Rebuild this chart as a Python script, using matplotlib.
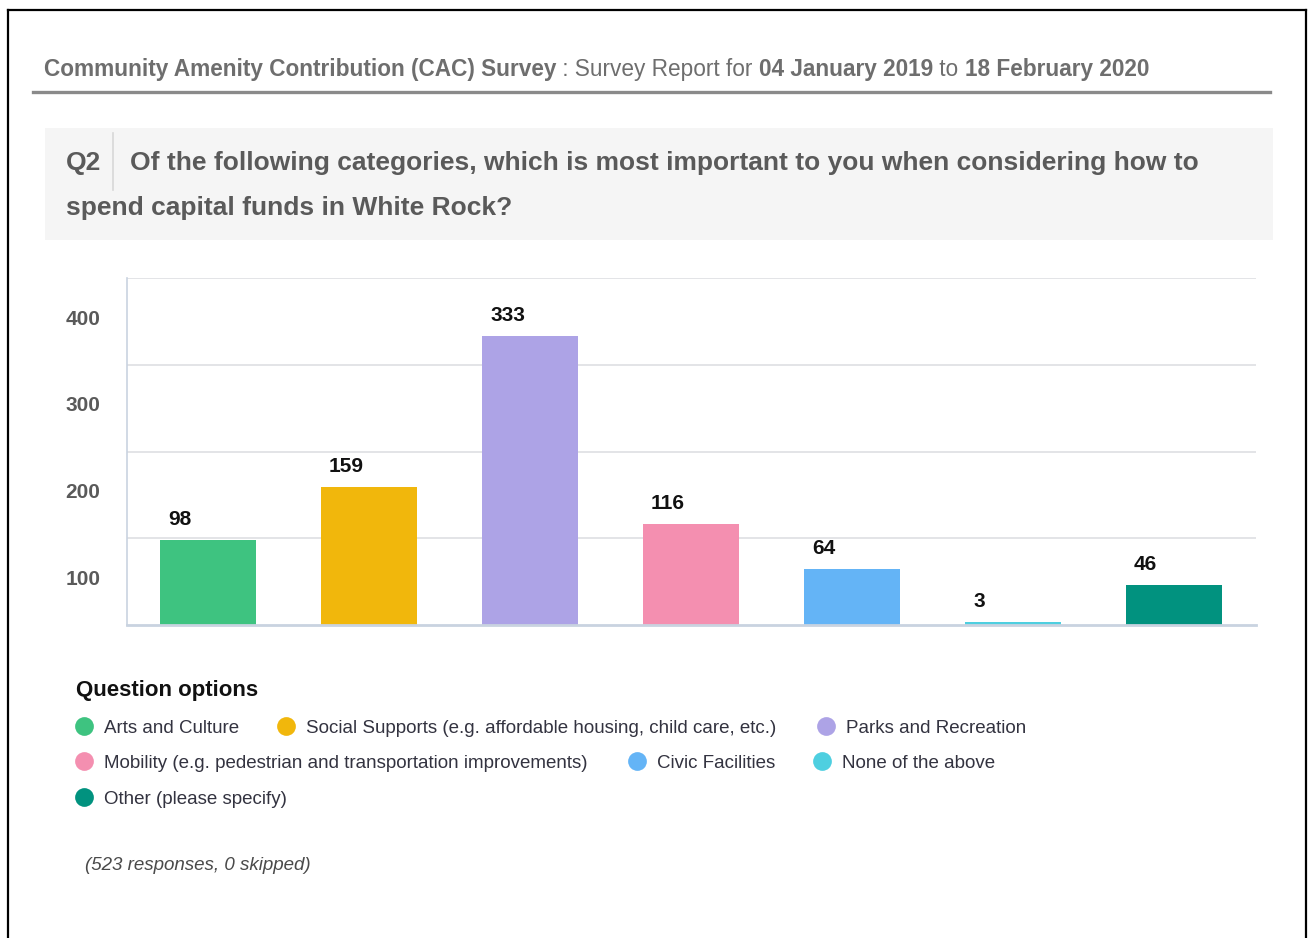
import matplotlib
matplotlib.use("Agg")
import matplotlib.pyplot as plt
import matplotlib.transforms as mtransforms
from matplotlib.lines import Line2D
from matplotlib.patches import Rectangle
import numpy as np

# ---------------------------------------------------------------- datos
OPTIONS = [
    "Arts and Culture",
    "Social Supports (e.g. affordable housing, child care, etc.)",
    "Parks and Recreation",
    "Mobility (e.g. pedestrian and transportation improvements)",
    "Civic Facilities",
    "None of the above",
    "Other (please specify)",
]
COUNTS = [98, 159, 333, 116, 64, 3, 46]
COLORS = ["#3ec380", "#f1b70c", "#ada3e6", "#f48fb0",
          "#64b4f6", "#4ecfe0", "#01927f"]
Y_TICKS = [100, 200, 300, 400]
RESPONSES = 523
SKIPPED = 0

# ---------------------------------------------------------------- estilo
W, H, DPI = 1315, 938, 100
GRAY_TXT = "#5a5a5a"
INK = "#111111"
LEGEND_TXT = "#333340"
GRID = "#dedfe3"
SPINE = "#c9d3e0"
FONT = "Liberation Sans"

plt.rcParams.update({"font.family": FONT})

fig = plt.figure(figsize=(W / DPI, H / DPI), dpi=DPI)
fig.patch.set_facecolor("white")


def fx(x):
    return x / W


def fy(y):
    return 1 - y / H


def run_text(x, y, parts, size, color):
    """Escribe trozos de texto seguidos (normal / negrita) en una linea."""
    renderer = fig.canvas.get_renderer()
    cur = x
    for txt, weight in parts:
        t = fig.text(fx(cur), fy(y), txt, fontsize=size, fontweight=weight,
                     color=color, va="baseline", ha="left")
        cur += t.get_window_extent(renderer).width


# marco exterior
for xs, ys in (([8, 1306], [10, 10]), ([8, 8], [10, 940]), ([1306, 1306], [10, 940])):
    fig.add_artist(Line2D([fx(v) for v in xs], [fy(v) for v in ys],
                          color="black", lw=1.6))

# cabecera del informe
run_text(44, 76, [("Community Amenity Contribution (CAC) Survey", "bold"),
                  (" : Survey Report for ", "normal"),
                  ("04 January 2019", "bold"),
                  (" to ", "normal"),
                  ("18 February 2020", "bold")], 16.3, "#6e6e6e")
fig.add_artist(Line2D([fx(33), fx(1270)], [fy(92), fy(92)],
                      color="#8a8a8a", lw=2.4))

# caja de la pregunta
fig.add_artist(Rectangle((fx(45), fy(240)), fx(1273) - fx(45), fy(128) - fy(240),
                         facecolor="#f5f5f5", edgecolor="none"))
fig.add_artist(Line2D([fx(113), fx(113)], [fy(133), fy(190)],
                      color="#d8d8d8", lw=1.2))
Q_SIZE = 19
fig.text(fx(66), fy(163), "Q2", fontsize=Q_SIZE, fontweight="bold",
         color=GRAY_TXT, va="center", ha="left")
fig.text(fx(130), fy(163),
         "Of the following categories, which is most important to you when "
         "considering how to", fontsize=Q_SIZE, fontweight="bold",
         color=GRAY_TXT, va="center", ha="left")
fig.text(fx(66), fy(208), "spend capital funds in White Rock?", fontsize=Q_SIZE,
         fontweight="bold", color=GRAY_TXT, va="center", ha="left")

# ---------------------------------------------------------------- barras
ax = fig.add_axes([fx(127), fy(625), fx(1256) - fx(127), fy(278) - fy(625)])
x = np.arange(len(COUNTS))
bar_w = 0.596
ax.bar(x, COUNTS, width=bar_w, color=COLORS, zorder=2)
for xi, v in zip(x, COUNTS):
    ax.annotate(str(v), (xi - bar_w / 2, v), xytext=(5.8, 15),
                textcoords="offset points", ha="left", va="center",
                fontsize=15, fontweight="bold", color=INK)

ax.set_xlim(-0.503, 6.509)
ax.set_ylim(0, 400)
ax.set_xticks([])
ax.set_yticks(Y_TICKS)
ax.set_yticklabels([str(t) for t in Y_TICKS], fontsize=15,
                   fontweight="bold", color=GRAY_TXT)
ax.tick_params(axis="y", length=0, pad=19)
# etiquetas del eje y desplazadas hacia abajo respecto a la linea de guia
shift = mtransforms.ScaledTranslation(0, -0.39, fig.dpi_scale_trans)
for lab in ax.get_yticklabels():
    lab.set_transform(lab.get_transform() + shift)
ax.yaxis.grid(True, color=GRID, lw=1.2, zorder=0)
for side in ("top", "right"):
    ax.spines[side].set_visible(False)
ax.spines["left"].set_color(SPINE)
ax.spines["bottom"].set_color(SPINE)
ax.spines["left"].set_linewidth(1.2)
ax.spines["bottom"].set_linewidth(2.0)

# ---------------------------------------------------------------- leyenda
fig.text(fx(76), fy(690), "Question options", fontsize=16, fontweight="bold",
         color=INK, va="center", ha="left")
legend_pos = [(84, 726), (286, 726), (826, 726),
              (84, 761), (637, 761), (822, 761),
              (84, 797)]
for (lx, ly), label, col in zip(legend_pos, OPTIONS, COLORS):
    fig.add_artist(Line2D([fx(lx)], [fy(ly)], marker="o", markersize=13.5,
                          color=col, markeredgewidth=0, linestyle="none"))
    fig.text(fx(lx + 20), fy(ly + 2), label, fontsize=13.5, color=LEGEND_TXT,
             va="center", ha="left")

fig.text(fx(85), fy(866), f"({RESPONSES} responses, {SKIPPED} skipped)",
         fontsize=13.5, fontstyle="italic", color="#4a4a4a",
         va="center", ha="left")

fig.savefig("out.png", dpi=DPI)
